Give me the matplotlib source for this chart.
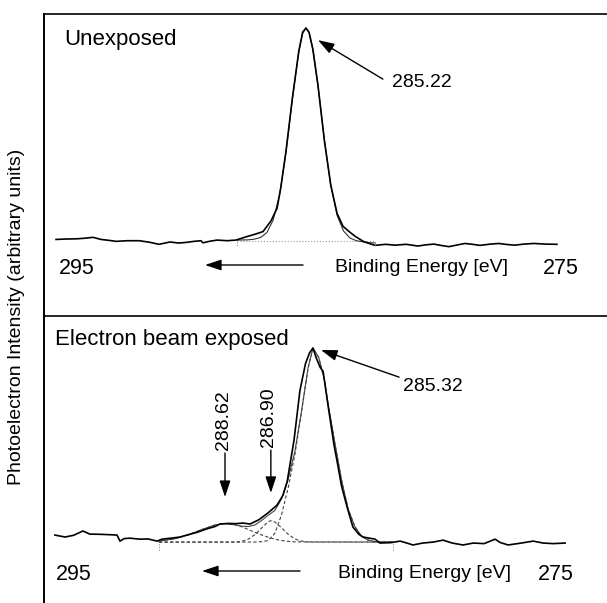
import matplotlib
matplotlib.use('Agg')
import matplotlib.pyplot as plt

plt.rcParams['font.family'] = ['Liberation Sans', 'DejaVu Sans']

top_energy = [295.0, 294.6, 294.18, 293.85, 293.55, 293.24, 292.95, 292.65, 292.2, 291.75,
              291.35, 290.97, 290.54, 290.2, 289.91, 289.6, 289.33, 289.25, 289.0, 288.7,
              288.3, 287.96, 287.7, 287.49, 287.2, 286.9, 286.59, 286.35, 286.2, 286.0,
              285.75, 285.5, 285.35, 285.22, 285.1, 284.95, 284.75, 284.5, 284.25, 284.0,
              283.77, 283.58, 283.3, 282.95, 282.52, 282.1, 281.74, 281.3, 280.84, 280.5,
              280.21, 279.9, 279.62, 279.3, 279.0, 278.7, 278.41, 278.0, 277.67, 277.35,
              277.04, 276.7, 276.3, 275.85, 275.4]
top_measured = [0.3, 0.5, 0.6, 0.9, 1.3, 0.3, -0.1, -0.6, -0.3, -0.3,
                -1.0, -2.0, -0.9, -1.4, -1.1, -0.6, -0.3, -1.3, -0.6, 0.0,
                -0.3, 0.0, 1.0, 1.8, 2.8, 4.0, 9.0, 15.0, 25.0, 42.0,
                67.0, 89.0, 98.0, 100.0, 98.0, 90.0, 73.0, 47.0, 26.0, 12.5,
                6.5, 4.5, 1.8, -0.8, -2.5, -2.0, -2.4, -2.0, -2.8, -2.2,
                -1.9, -2.6, -3.1, -2.3, -1.6, -2.0, -2.5, -1.9, -1.6, -2.1,
                -2.4, -1.9, -1.6, -1.9, -2.0]

top_fit_energy = [287.92, 287.5, 287.25, 287.0, 286.75, 286.5, 286.25, 286.0, 285.75, 285.5,
                  285.35, 285.22, 285.1, 284.95, 284.75, 284.5, 284.25, 284.0, 283.75, 283.5,
                  283.25, 283.0, 282.75, 282.52]
top_fit = [0.0, 0.1, 0.4, 1.2, 3.5, 9.5, 21.5, 41.5, 66.5, 89.0,
           97.5, 100.0, 98.0, 90.0, 73.0, 47.5, 25.8, 11.6, 4.3, 1.0,
           -0.3, -0.8, -1.2, -1.4]
top_base_energy = [287.92, 282.52]
top_base = [-0.3, -0.3]
top_range = [287.92, 282.52]

# electron beam exposed film
bot_energy = [295.0, 294.62, 294.3, 293.95, 293.69, 293.3, 292.95, 292.67, 292.56, 292.4,
              292.19, 291.81, 291.5, 291.17, 290.98, 290.65, 290.31, 290.0, 289.67, 289.3,
              289.0, 288.81, 288.5, 288.2, 287.95, 287.68, 287.35, 287.01, 286.67, 286.45,
              286.29, 286.03, 285.81, 285.6, 285.45, 285.32, 285.2, 285.05, 284.94, 284.75,
              284.53, 284.42, 284.25, 284.04, 283.82, 283.6, 283.44, 283.2, 282.99, 282.81,
              282.4, 282.05, 281.8, 281.57, 281.2, 280.8, 280.44, 280.1, 279.69, 279.3,
              278.9, 278.49, 278.3, 278.0, 277.5, 277.06, 276.69, 276.3, 275.86]
bot_measured = [3.6, 2.6, 3.5, 5.7, 4.1, 4.0, 3.8, 3.6, 0.5, 1.8,
                2.0, 1.5, 1.6, 0.5, 1.5, 2.0, 2.6, 3.8, 5.0, 6.8,
                8.0, 9.3, 9.6, 9.5, 9.8, 9.3, 11.5, 15.0, 19.0, 24.0,
                31.0, 52.6, 78.0, 92.0, 97.5, 100.0, 95.0, 90.0, 88.0, 70.0,
                50.0, 42.0, 29.0, 18.0, 7.7, 4.0, 2.6, 2.0, 1.5, -0.5,
                -0.3, 0.5, -0.5, -1.5, -0.5, 0.0, 1.0, -0.5, -1.5, -0.5,
                -0.8, 1.5, -0.2, -1.5, -0.5, 0.5, -0.5, -0.8, -0.5]

bot_fit_energy = [291.1, 290.5, 290.0, 289.5, 289.0, 288.62, 288.25, 288.0, 287.75, 287.5,
                  287.25, 287.0, 286.75, 286.5, 286.25, 286.0, 285.75, 285.5, 285.32, 285.1,
                  284.9, 284.75, 284.5, 284.25, 284.0, 283.75, 283.5, 283.25, 283.0, 282.75,
                  282.32]
bot_fit = [0.5, 1.7, 3.7, 6.4, 8.8, 9.5, 8.9, 8.2, 8.0, 8.8,
           11.1, 13.8, 16.3, 22.2, 32.4, 46.7, 67.5, 90.0, 100.0, 95.0,
           84.0, 71.0, 51.0, 32.0, 17.0, 8.0, 3.0, 1.0, 0.2, 0.0,
           0.0]

# fitted components (dashed)
main_energy = [291.1, 287.75, 287.5, 287.25, 287.0, 286.75, 286.5, 286.25, 286.0, 285.75,
               285.5, 285.32, 285.1, 284.9, 284.75, 284.5, 284.25, 284.0, 283.75, 283.5,
               283.25, 283.0, 282.75, 282.32]
main_comp = [0.0, 0.0, 0.0, 0.2, 0.8, 4.5, 14.0, 28.0, 45.0, 67.0,
             90.0, 100.0, 95.0, 84.0, 71.0, 51.0, 32.0, 17.0, 8.0, 3.0,
             1.0, 0.2, 0.0, 0.0]
c2_energy = [291.1, 288.25, 288.0, 287.75, 287.5, 287.25, 287.0, 286.9, 286.75, 286.5,
             286.25, 286.0, 285.75, 285.5, 282.32]
c2_comp = [0.0, 0.0, 0.3, 1.5, 3.8, 7.2, 10.5, 11.0, 10.3, 7.4,
           4.0, 1.6, 0.5, 0.0, 0.0]
c1_energy = [291.1, 290.5, 290.0, 289.5, 289.0, 288.62, 288.25, 288.0, 287.75, 287.5,
             287.25, 287.0, 286.75, 286.5, 286.25, 286.0, 282.32]
c1_comp = [0.5, 1.7, 3.7, 6.4, 8.8, 9.5, 8.9, 7.9, 6.5, 5.0,
           3.7, 2.5, 1.5, 0.8, 0.4, 0.1, 0.0]
bot_range = [291.1, 282.32]

W, H = 607, 603


def fxy(x, y):
    # pixel position (from top-left) -> figure fraction
    return x / W, 1 - y / H


fig = plt.figure(figsize=(W / 100, H / 100), dpi=100)
ax1 = fig.add_axes([44 / W, (H - 316) / H, (W - 44) / W, 302 / H])
ax2 = fig.add_axes([44 / W, 0, (W - 44) / W, 287 / H])

ax1.set_xlim(295.47, 273.44)
ax1.set_ylim(-35.8, 106.6)
ax2.set_xlim(295.41, 274.29)
ax2.set_ylim(-31.4, 116.5)

for ax in (ax1, ax2):
    ax.set_xticks([])
    ax.set_yticks([])
    ax.spines['right'].set_visible(False)
    ax.spines['bottom'].set_visible(False)
    ax.spines['left'].set_linewidth(1.4)
    ax.spines['top'].set_linewidth(1.2)
    ax.patch.set_alpha(0)

# top panel
ax1.plot(top_base_energy, top_base, color='#999999', lw=0.8, ls=':')
ax1.plot(top_fit_energy, top_fit, color='#333333', lw=0.8)
ax1.plot(top_energy, top_measured, color='black', lw=1.2)
ax1.vlines(top_range, -1.0, -3.5, color='#777777', lw=0.7, ls=':')

# bottom panel
for e, v in [(main_energy, main_comp), (c2_energy, c2_comp), (c1_energy, c1_comp)]:
    ax2.plot(e, v, color='#444444', lw=0.8, ls=(0, (3, 2)))
ax2.plot(bot_fit_energy, bot_fit, color='#444444', lw=0.8)
ax2.plot(bot_energy, bot_measured, color='black', lw=1.2)
ax2.vlines(bot_range, -1.0, -4.5, color='#777777', lw=0.7, ls=':')

head = dict(arrowstyle='-|>,head_length=0.9,head_width=0.3', color='black', lw=1.0,
            mutation_scale=11, shrinkA=0, shrinkB=0)

fig.text(*fxy(64, 40), 'Unexposed', fontsize=16, va='center')
ax1.annotate('', xy=(284.75, 94.3), xytext=(282.21, 75.9), arrowprops=head)
ax1.text(281.85, 74.5, '285.22', fontsize=14, va='center', ha='left')

fig.text(*fxy(55, 339), 'Electron beam exposed', fontsize=16, va='center')
ax2.annotate('', xy=(285.02, 99.0), xytext=(282.09, 85.0), arrowprops=head)
ax2.text(281.94, 80.0, '285.32', fontsize=14, va='center', ha='left')

ax2.annotate('', xy=(288.62, 23.2), xytext=(288.62, 45.9), arrowprops=head)
ax2.text(288.68, 47.4, '288.62', fontsize=14, rotation=90, ha='center', va='bottom')
ax2.annotate('', xy=(286.9, 25.3), xytext=(286.9, 47.4), arrowprops=head)
ax2.text(286.98, 49.0, '286.90', fontsize=14, rotation=90, ha='center', va='bottom')

# energy direction rows
for y_row, x295, x_be, x275, x_arr in [(268, 59, 335, 543, 303), (574, 56, 338, 538, 300)]:
    fig.text(*fxy(x295, y_row), '295', fontsize=15.5, va='center')
    fig.text(*fxy(x_be, y_row), 'Binding Energy [eV]', fontsize=14, va='center')
    fig.text(*fxy(x275, y_row), '275', fontsize=15.5, va='center')
    ax1.annotate('', xy=fxy(x_arr - 98, y_row - 3), xytext=fxy(x_arr, y_row - 3),
                 xycoords='figure fraction', textcoords='figure fraction', arrowprops=head)

fig.text(*fxy(17, 317), 'Photoelectron Intensity (arbitrary units)', fontsize=14,
         rotation=90, ha='center', va='center')

fig.savefig('out.png', dpi=100)
